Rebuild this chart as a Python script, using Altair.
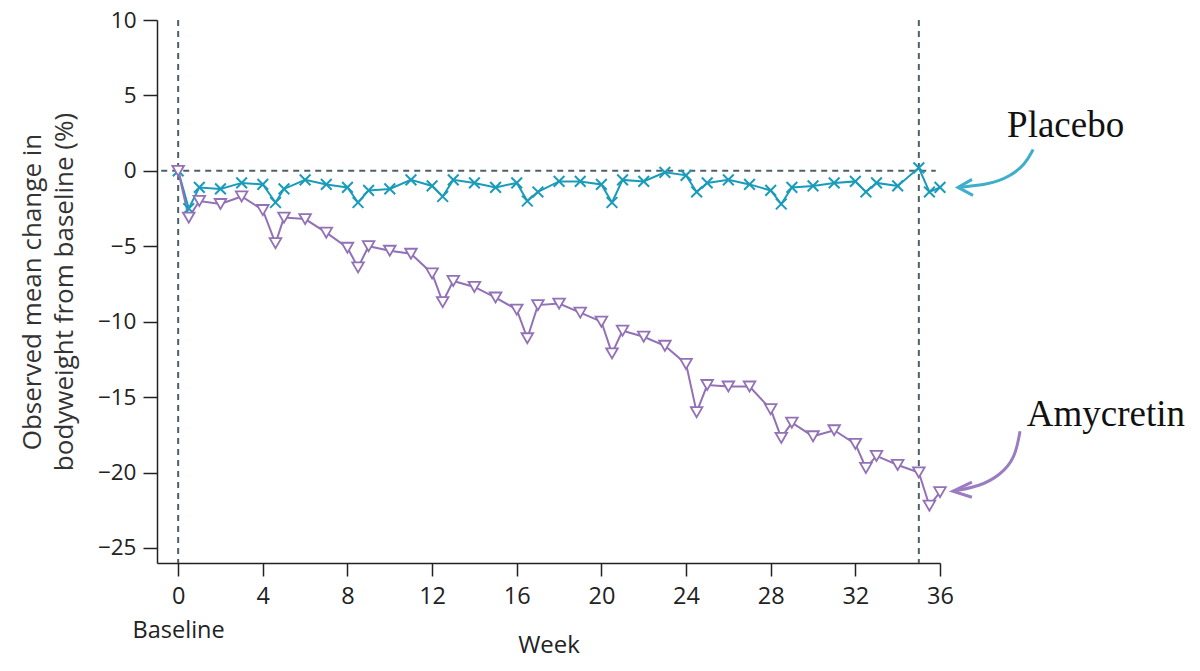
import altair as alt
import pandas as pd

weeks = [0, 0.5, 1, 2, 3, 4, 4.6, 5, 6, 7, 8, 8.5, 9, 10, 11, 12, 12.5, 13, 14, 15,
         16, 16.5, 17, 18, 19, 20, 20.5, 21, 22, 23, 24, 24.5, 25, 26, 27, 28, 28.5,
         29, 30, 31, 32, 32.5, 33, 34, 35, 35.5, 36]
amycretin = [0, -3.1, -2.0, -2.2, -1.7, -2.6, -4.8, -3.1, -3.2, -4.1, -5.1, -6.4, -5.0,
             -5.3, -5.5, -6.8, -8.7, -7.3, -7.7, -8.4, -9.2, -11.1, -8.9, -8.8, -9.4,
             -10.0, -12.1, -10.6, -11.0, -11.6, -12.8, -16.0, -14.2, -14.3, -14.3, -15.8,
             -17.7, -16.7, -17.6, -17.2, -18.1, -19.7, -18.9, -19.5, -20.0, -22.2, -21.3]
placebo = [0, -2.5, -1.1, -1.2, -0.8, -0.9, -2.1, -1.2, -0.6, -0.9, -1.1, -2.1, -1.3,
           -1.2, -0.6, -1.0, -1.7, -0.6, -0.8, -1.1, -0.8, -2.0, -1.4, -0.7, -0.7, -0.9,
           -2.1, -0.6, -0.7, -0.1, -0.3, -1.4, -0.8, -0.6, -0.9, -1.3, -2.2, -1.1, -1.0,
           -0.8, -0.7, -1.4, -0.8, -1.0, 0.2, -1.4, -1.1]

x_ticks = [0, 4, 8, 12, 16, 20, 24, 28, 32, 36]
y_ticks = [-25, -20, -15, -10, -5, 0, 5, 10]
ref_weeks = [0, 35]

# annotation curves (in data units)
plac_arrow_x = [40.40, 40.02, 39.31, 38.36, 36.85]
plac_arrow_y = [1.41, 0.42, -0.37, -0.90, -1.10]
amy_arrow_x = [39.78, 39.55, 38.84, 37.89, 36.61]
amy_arrow_y = [-17.27, -19.06, -20.18, -20.91, -21.24]
labels = ["Placebo", "Amycretin"]
label_x = [39.17, 40.1]
label_y = [2.27, -16.9]

BLUE = "#1a9bba"
PURPLE = "#9271b6"
BLUE_ARROW = "#3eaecb"
PURPLE_ARROW = "#9a7cc0"
REF = "#4f6168"
SANS = "Open Sans"

xs = alt.Scale(domain=[-1, 36], nice=False, zero=False)
ys = alt.Scale(domain=[-26, 10], nice=False, zero=False)

df_a = pd.DataFrame({"week": weeks, "val": amycretin})
df_p = pd.DataFrame({"week": weeks, "val": placebo})

xenc = alt.X("week:Q", scale=xs, axis=alt.Axis(
    values=x_ticks, title="Week", grid=False,
    labelExpr="datum.value == 0 ? ['0', 'Baseline'] : datum.label",
    labelLineHeight=34, labelFontSize=23.5, labelPadding=8, tickSize=13,
    titleFontSize=24, titleFontWeight="normal", titleY=89, titleBaseline="alphabetic",
    labelFont=SANS, titleFont=SANS,
    labelColor="#222", titleColor="#222", domainColor="#222", tickColor="#222",
    domainWidth=1.5, tickWidth=1.5, labelFlush=False))
yenc = alt.Y("val:Q", scale=ys, axis=alt.Axis(
    values=y_ticks, title=["Observed mean change in", "bodyweight from baseline (%)"],
    grid=False, labelFontSize=22.5, labelPadding=7, tickSize=14,
    titleFontSize=26, titleFontWeight="normal", titlePadding=20, titleLineHeight=32,
    labelFont=SANS, titleFont=SANS,
    labelColor="#222", titleColor="#333", domainColor="#222", tickColor="#222",
    domainWidth=1.5, tickWidth=1.5, labelFlush=False))

vrules = alt.Chart(pd.DataFrame({"week": ref_weeks})).mark_rule(
    color=REF, strokeDash=[6, 5], strokeWidth=2
).encode(x=alt.X("week:Q", scale=xs))

hrule = alt.Chart(pd.DataFrame({"y": [0], "x1": [-0.8], "x2": [35.8]})).mark_rule(
    color=REF, strokeDash=[6, 5], strokeWidth=2
).encode(x=alt.X("x1:Q", scale=xs), x2="x2:Q", y=alt.Y("y:Q", scale=ys))

line_p = alt.Chart(df_p).mark_line(color=BLUE, strokeWidth=2).encode(x=xenc, y=yenc)
pts_p = alt.Chart(df_p).mark_point(
    shape="M-1,-1L1,1M-1,1L1,-1", filled=False, color=BLUE, size=115, strokeWidth=2,
    opacity=1
).encode(x=alt.X("week:Q", scale=xs), y=alt.Y("val:Q", scale=ys))

line_a = alt.Chart(df_a).mark_line(color=PURPLE, strokeWidth=2).encode(
    x=alt.X("week:Q", scale=xs), y=alt.Y("val:Q", scale=ys))
pts_a = alt.Chart(df_a).mark_point(
    shape="triangle-down", filled=True, fill="white", stroke=PURPLE, size=135,
    strokeWidth=1.8, opacity=1
).encode(x=alt.X("week:Q", scale=xs), y=alt.Y("val:Q", scale=ys))

arr_p = alt.Chart(pd.DataFrame({"x": plac_arrow_x, "y": plac_arrow_y})).mark_line(
    color=BLUE_ARROW, strokeWidth=3, interpolate="basis", clip=False
).encode(x=alt.X("x:Q", scale=xs), y=alt.Y("y:Q", scale=ys))
head_p = alt.Chart(pd.DataFrame({"x": plac_arrow_x[-1:], "y": plac_arrow_y[-1:]})).mark_point(
    shape="M2.8,-1.6L0,0L3,1.6", filled=False, color=BLUE_ARROW, size=100,
    strokeWidth=3, opacity=1, clip=False
).encode(x=alt.X("x:Q", scale=xs), y=alt.Y("y:Q", scale=ys))

arr_a = alt.Chart(pd.DataFrame({"x": amy_arrow_x, "y": amy_arrow_y})).mark_line(
    color=PURPLE_ARROW, strokeWidth=3, interpolate="basis", clip=False
).encode(x=alt.X("x:Q", scale=xs), y=alt.Y("y:Q", scale=ys))
head_a = alt.Chart(pd.DataFrame({"x": amy_arrow_x[-1:], "y": amy_arrow_y[-1:]})).mark_point(
    shape="M3.8,-1.8L0,0L3.8,1.2", filled=False, color=PURPLE_ARROW, size=100,
    strokeWidth=3, opacity=1, clip=False
).encode(x=alt.X("x:Q", scale=xs), y=alt.Y("y:Q", scale=ys))

txt = alt.Chart(pd.DataFrame({"t": labels, "x": label_x, "y": label_y})).mark_text(
    font="Liberation Serif", fontSize=37, align="left", baseline="alphabetic",
    color="#111", clip=False
).encode(x=alt.X("x:Q", scale=xs), y=alt.Y("y:Q", scale=ys), text="t:N")

chart = alt.layer(
    vrules, hrule, line_p, line_a, pts_p, pts_a, arr_p, head_p, arr_a, head_a, txt
).properties(
    width=783, height=543,
    autosize=alt.AutoSizeParams(type="none"),
    padding={"left": 149, "top": 12, "right": 250, "bottom": 96},
    background="white"
).configure_view(stroke=None)

chart.save("out.html", embed_options={"renderer": "svg", "actions": False})
